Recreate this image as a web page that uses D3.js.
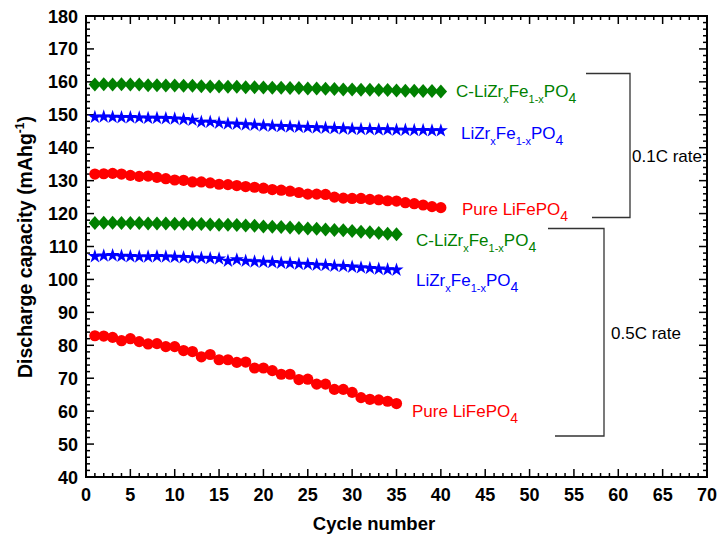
<!DOCTYPE html>
<html><head><meta charset="utf-8">
<script src="https://cdn.jsdelivr.net/npm/d3@7"></script>
<style>body{margin:0;background:#fff}svg{display:block}text{font-family:"Liberation Sans",Arial,sans-serif}</style>
</head><body>
<script>
const cycles01 = d3.range(1, 41);
const cycles05 = d3.range(1, 36);
const green01 = [159.2,159.3,159.2,159.3,159.2,159.2,159.0,159.0,158.9,158.9,158.8,158.8,158.7,158.6,158.6,158.5,158.5,158.4,158.4,158.3,158.2,158.2,158.1,158.1,158.0,158.0,157.9,157.8,157.7,157.7,157.6,157.6,157.5,157.5,157.4,157.3,157.3,157.2,157.2,157.1];
const blue01 = [149.3,149.4,149.3,149.2,149.2,149.1,149.0,149.0,148.9,148.8,148.6,148.4,147.8,147.8,147.5,147.3,147.2,147.0,146.9,146.7,146.6,146.5,146.4,146.3,146.2,146.1,146.0,145.9,145.8,145.7,145.6,145.6,145.5,145.5,145.4,145.4,145.3,145.3,145.2,145.2];
const red01 = [132.0,132.1,132.2,132.0,131.6,131.3,131.4,131.0,130.6,130.2,130.1,129.6,129.6,129.3,128.9,128.8,128.5,128.2,128.0,127.7,127.3,127.1,126.8,126.4,125.9,125.9,125.8,125.0,124.7,124.6,124.6,124.3,124.2,123.9,123.8,123.3,123.0,122.6,122.1,121.8];
const green05 = [117.1,117.2,117.2,117.1,117.1,117.1,117.0,117.0,117.0,116.9,116.9,116.8,116.8,116.7,116.6,116.6,116.5,116.4,116.3,116.1,116.0,115.9,115.8,115.6,115.5,115.4,115.2,115.0,114.9,114.7,114.5,114.3,114.1,113.9,113.7];
const blue05 = [107.0,107.2,107.3,107.1,107.0,106.9,106.9,107.0,106.9,106.8,106.7,106.6,106.5,106.4,106.3,105.6,106.0,105.6,105.4,105.3,105.2,105.0,104.9,104.7,104.6,104.4,104.3,104.1,104.0,103.8,103.6,103.4,103.2,103.0,102.9];
const red05 = [82.9,82.8,82.4,81.4,82.0,81.1,80.4,80.5,79.6,79.6,78.4,78.1,76.5,77.2,75.6,75.6,74.8,74.9,73.1,73.1,72.3,71.2,71.2,69.6,69.7,68.2,68.2,66.6,66.6,65.7,64.1,63.6,63.4,63.0,62.3];
const xTicks = d3.range(0, 71, 5);
const yTicks = d3.range(40, 181, 10);
const labelsChem = ["C-LiZr|x|Fe|1-x|PO|4", "LiZr|x|Fe|1-x|PO|4", "Pure LiFePO|4"];
const bracketLabels = ["0.1C rate", "0.5C rate"];

const W = 717, H = 537;
const L = 86, R = 707, T = 16, B = 477;
const x = d3.scaleLinear().domain([0, 70]).range([L, R]);
const y = d3.scaleLinear().domain([40, 180]).range([B, T]);

const svg = d3.select("body").append("svg").attr("width", W).attr("height", H);

function drawTicks(){
  const g = svg.append("g").attr("stroke", "#000");
  d3.range(0, 71, 1).forEach(v => {
    const len = v % 5 === 0 ? 8 : 4;
    g.append("line").attr("x1", x(v)).attr("x2", x(v)).attr("y1", B).attr("y2", B - len).attr("stroke-width", 1.5);
    g.append("line").attr("x1", x(v)).attr("x2", x(v)).attr("y1", T).attr("y2", T + len).attr("stroke-width", 1.5);
  });
  d3.range(40, 181, 2).forEach(v => {
    const len = v % 10 === 0 ? 8 : 4;
    g.append("line").attr("y1", y(v)).attr("y2", y(v)).attr("x1", L).attr("x2", L + len).attr("stroke-width", 1.5);
    g.append("line").attr("y1", y(v)).attr("y2", y(v)).attr("x1", R).attr("x2", R - len).attr("stroke-width", 1.5);
  });
  svg.append("rect").attr("x", L).attr("y", T).attr("width", R - L).attr("height", B - T)
    .attr("fill", "none").attr("stroke", "#000").attr("stroke-width", 2);
}
drawTicks();

svg.append("g").selectAll("text").data(xTicks).join("text")
  .attr("x", d => x(d)).attr("y", 501).attr("text-anchor", "middle")
  .attr("font-size", 18).attr("font-weight", "bold").text(d => d);
svg.append("g").selectAll("text").data(yTicks).join("text")
  .attr("x", 78).attr("y", d => y(d) + 6.5).attr("text-anchor", "end")
  .attr("font-size", 18).attr("font-weight", "bold").text(d => d);

svg.append("text").attr("x", 374).attr("y", 530).attr("text-anchor", "middle")
  .attr("font-size", 18.5).attr("font-weight", "bold").text("Cycle number");
const yt = svg.append("text").attr("transform", "translate(32,247) rotate(-90)").attr("text-anchor", "middle")
  .attr("font-size", 19.5).attr("font-weight", "bold");
yt.append("tspan").text("Discharge capacity (mAhg");
yt.append("tspan").attr("font-size", 12).attr("dy", -8).text("-1");
yt.append("tspan").attr("dy", 8).text(")");

const diamond = "M0,-7L6.2,0L0,7L-6.2,0Z";
const series = [
  {c: cycles01, v: green01, color: "#008000", shape: "diamond"},
  {c: cycles01, v: blue01, color: "#0000ff", shape: "star"},
  {c: cycles01, v: red01, color: "#ff0000", shape: "circle"},
  {c: cycles05, v: green05, color: "#008000", shape: "diamond"},
  {c: cycles05, v: blue05, color: "#0000ff", shape: "star"},
  {c: cycles05, v: red05, color: "#ff0000", shape: "circle"}
];
const line = d3.line().x(d => x(d[0])).y(d => y(d[1]));
series.forEach(s => {
  const pts = s.c.map((c, i) => [c, s.v[i]]);
  svg.append("path").attr("d", line(pts)).attr("fill", "none").attr("stroke", s.color).attr("stroke-width", 1);
  const g = svg.append("g").attr("fill", s.color);
  pts.forEach(p => {
    if (s.shape === "circle") g.append("circle").attr("cx", x(p[0])).attr("cy", y(p[1])).attr("r", 5.6);
    else if (s.shape === "diamond") g.append("path").attr("d", diamond).attr("transform", `translate(${x(p[0])},${y(p[1])})`);
    else g.append("path").attr("d", d3.symbol(d3.symbolStar, 62)()).attr("transform", `translate(${x(p[0])},${y(p[1])})`);
  });
});

function chemLabel(str, px, py, color){
  const parts = str.split("|");
  const t = svg.append("text").attr("x", px).attr("y", py).attr("fill", color).attr("font-size", 17);
  let shift = 0;
  parts.forEach((p, i) => {
    const isSub = i % 2 === 1;
    const isLastSub = isSub && i === parts.length - 1;
    const ts = t.append("tspan").text(p);
    if (isSub) {
      ts.attr("font-size", isLastSub ? 14 : 11).attr("dy", 6);
      shift = 6;
    } else if (shift) {
      ts.attr("dy", -shift); shift = 0;
    }
  });
}
chemLabel(labelsChem[0], 456, 97, "#008000");
chemLabel(labelsChem[1], 461, 139, "#0000ff");
chemLabel(labelsChem[2], 462, 215, "#ff0000");
chemLabel(labelsChem[0], 416, 246, "#008000");
chemLabel(labelsChem[1], 416, 286, "#0000ff");
chemLabel(labelsChem[2], 412, 417, "#ff0000");

const br = svg.append("g").attr("fill", "none").attr("stroke", "#333").attr("stroke-width", 1.3);
br.append("path").attr("d", "M586,73.5H630V217.5H592");
br.append("path").attr("d", "M548,228.5H604V436H555");
svg.append("text").attr("x", 632).attr("y", 162).attr("font-size", 17).text(bracketLabels[0]);
svg.append("text").attr("x", 611).attr("y", 339).attr("font-size", 17).text(bracketLabels[1]);
</script>
</body></html>
